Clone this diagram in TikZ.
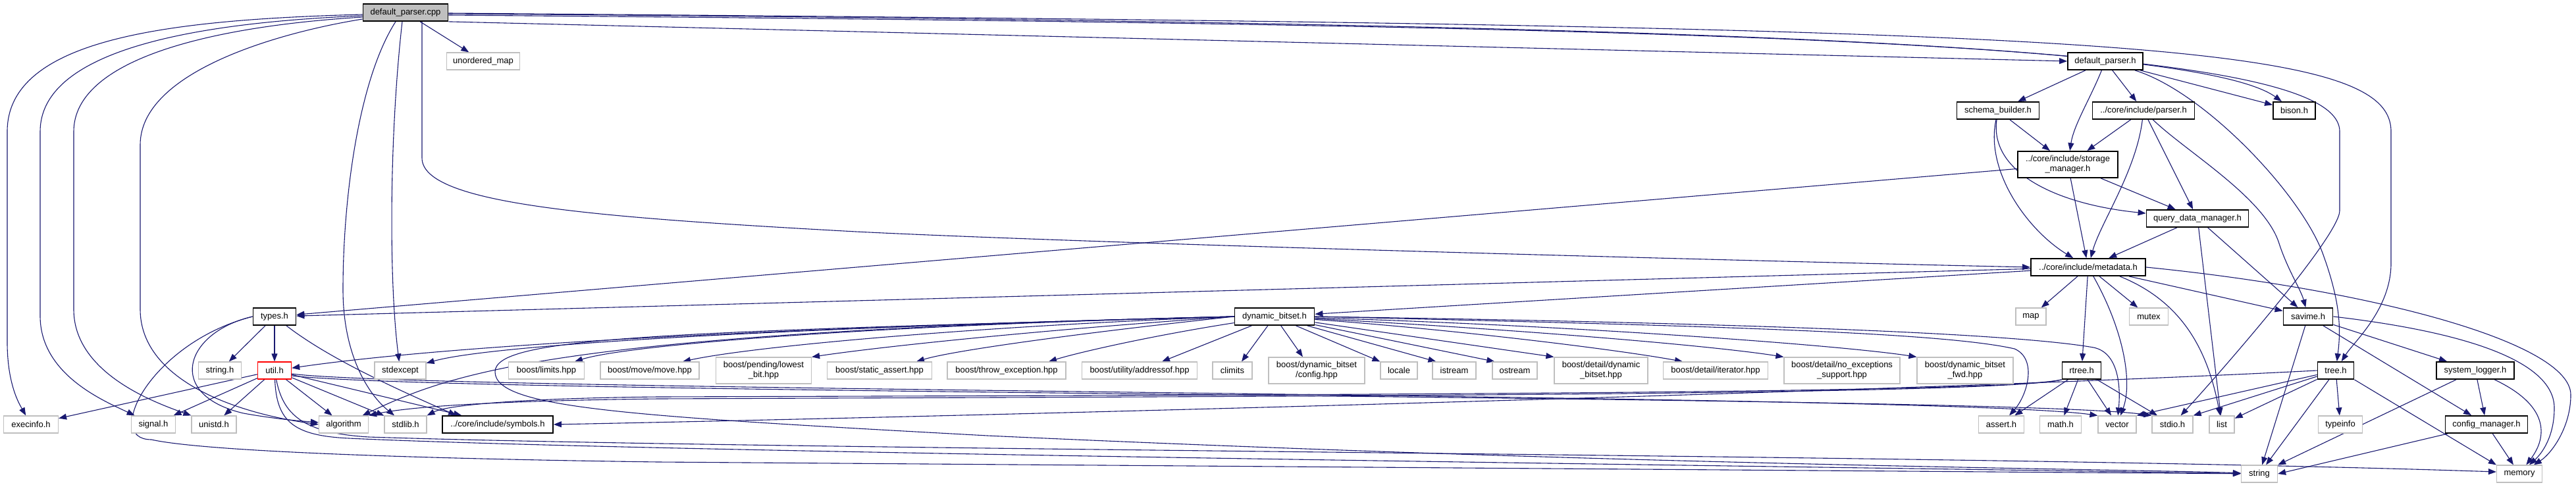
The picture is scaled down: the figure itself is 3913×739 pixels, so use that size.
\documentclass[tikz,border=0pt]{standalone}
\usepackage{fontspec}
\newfontfamily\nodefont{Liberation Sans}
\usetikzlibrary{arrows.meta,calc}
\pgfdeclarelayer{background}
\pgfsetlayers{background,main}
\definecolor{edgeblue}{HTML}{191970}
\definecolor{grey75}{HTML}{BFBFBF}
\tikzset{
  base/.style={rectangle, inner sep=0pt, minimum height=26pt, align=center, fill=white,
    font={\nodefont\fontsize{13}{15}\selectfont}},
  doc/.style={base, draw=black, line width=1.8pt},
  ext/.style={base, draw=grey75, line width=1.2pt},
  redbox/.style={base, draw=red, line width=1.4pt},
  two/.style={minimum height=40pt},
  edge/.style={draw=edgeblue, line width=1.1pt, -{Triangle[length=12pt,width=9pt]}},
}
\begin{document}
\begin{tikzpicture}[x=1pt,y=-1pt]
\useasboundingbox (0,0) rectangle (3913,739);
% ---------- nodes ----------
\node[doc, fill=grey75, minimum width=129pt] (dpc) at (616,19) {default\_parser.cpp};
\node[ext, minimum width=111pt] (umap) at (734,93) {unordered\_map};
\node[doc, minimum width=114pt] (dph) at (3198,93) {default\_parser.h};
\node[doc, minimum width=125pt] (sb) at (3035,168) {schema\_builder.h};
\node[doc, minimum width=155pt] (parser) at (3256,168) {../core/include/parser.h};
\node[doc, minimum width=64pt] (bison) at (3485,168) {bison.h};
\node[doc, two, minimum width=152pt] (sm) at (3141,250) {../core/include/storage\\\_manager.h};
\node[doc, minimum width=155pt] (qdm) at (3338,332) {query\_data\_manager.h};
\node[doc, minimum width=174pt] (meta) at (3172,406) {../core/include/metadata.h};
\node[doc, minimum width=65pt] (types) at (417,481) {types.h};
\node[doc, minimum width=121pt] (dbs) at (1936,481) {dynamic\_bitset.h};
\node[ext, minimum width=46pt] (map) at (3085,481) {map};
\node[ext, minimum width=59pt] (mutex) at (3264,481) {mutex};
\node[doc, minimum width=75pt] (savime) at (3506,481) {savime.h};
\node[ext, minimum width=65pt] (stringh) at (334,563) {string.h};
\node[redbox, minimum width=51pt] (util) at (417,563) {util.h};
\node[ext, minimum width=78pt] (stdexcept) at (608,563) {stdexcept};
\node[ext, minimum width=115pt] (blimits) at (830,563) {boost/limits.hpp};
\node[ext, minimum width=150pt] (bmove) at (987,563) {boost/move/move.hpp};
\node[ext, two, minimum width=145pt] (blowest) at (1160,563) {boost/pending/lowest\\\_bit.hpp};
\node[ext, minimum width=159pt] (bstatic) at (1336,563) {boost/static\_assert.hpp};
\node[ext, minimum width=180pt] (bthrow) at (1529,563) {boost/throw\_exception.hpp};
\node[ext, minimum width=175pt] (baddr) at (1731,563) {boost/utility/addressof.hpp};
\node[ext, minimum width=60pt] (climits) at (1872,563) {climits};
\node[ext, two, minimum width=146pt] (bconfig) at (2000,563) {boost/dynamic\_bitset\\/config.hpp};
\node[ext, minimum width=56pt] (locale) at (2125,563) {locale};
\node[ext, minimum width=66pt] (istream) at (2209,563) {istream};
\node[ext, minimum width=68pt] (ostream) at (2301,563) {ostream};
\node[ext, two, minimum width=142pt] (bddyn) at (2432,563) {boost/detail/dynamic\\\_bitset.hpp};
\node[ext, minimum width=159pt] (biter) at (2606,563) {boost/detail/iterator.hpp};
\node[ext, two, minimum width=176pt] (bnoexc) at (2798,563) {boost/detail/no\_exceptions\\\_support.hpp};
\node[ext, two, minimum width=146pt] (bfwd) at (2985,563) {boost/dynamic\_bitset\\\_fwd.hpp};
\node[doc, minimum width=59pt] (rtree) at (3162,563) {rtree.h};
\node[doc, minimum width=55pt] (tree) at (3548,563) {tree.h};
\node[doc, minimum width=118pt] (slog) at (3760,563) {system\_logger.h};
\node[ext, minimum width=83pt] (execinfo) at (47,645) {execinfo.h};
\node[ext, minimum width=67pt] (signal) at (233,645) {signal.h};
\node[ext, minimum width=68pt] (unistd) at (325,645) {unistd.h};
\node[ext, minimum width=75pt] (algorithm) at (522,645) {algorithm};
\node[ext, minimum width=64pt] (stdlib) at (616,645) {stdlib.h};
\node[doc, minimum width=168pt] (symbols) at (756,645) {../core/include/symbols.h};
\node[ext, minimum width=69pt] (assert) at (3040,645) {assert.h};
\node[ext, minimum width=63pt] (math) at (3130,645) {math.h};
\node[ext, minimum width=58pt] (vector) at (3216,645) {vector};
\node[ext, minimum width=62pt] (stdio) at (3300,645) {stdio.h};
\node[ext, minimum width=38pt] (list) at (3375,645) {list};
\node[ext, minimum width=67pt] (typeinfo) at (3555,645) {typeinfo};
\node[doc, minimum width=125pt] (config) at (3777,645) {config\_manager.h};
\node[ext, minimum width=55pt] (stringn) at (3432,720) {string};
\node[ext, minimum width=69pt] (memory) at (3827,720) {memory};
% ---------- edges ----------
\begin{pgfonlayer}{background}
% default_parser.cpp
\draw[edge] (dpc) -- (umap);
\draw[edge] (dpc.south east) -- (dph.west);
\draw[edge] ($(dpc.east)+(0,2)$) .. controls (2600,35) and (3350,70) .. (bison);
\draw[edge] ($(dpc.east)+(0,4)$) .. controls (2800,40) and (3554,70) .. (3554,200) -- (3554,320) .. controls (3554,360) and (3360,580) .. (stdio);
\draw[edge] ($(dpc.east)+(0,1)$) .. controls (3200,40) and (3632,60) .. (3632,200) -- (3632,400) .. controls (3632,470) and (3575,520) .. (tree);
\draw[edge] ($(dpc.south)+(25,0)$) -- (641,240) .. controls (641,310) and (900,330) .. (1300,352) .. controls (1700,372) and (2800,400) .. (meta.west);
\draw[edge] ($(dpc.west)+(0,3)$) .. controls (250,30) and (11,60) .. (11,200) -- (11,520) .. controls (11,585) and (30,615) .. (execinfo);
\draw[edge] ($(dpc.west)+(0,5)$) .. controls (280,35) and (61,80) .. (61,200) -- (61,480) .. controls (61,570) and (160,610) .. (signal);
\draw[edge] ($(dpc.west)+(0,7)$) .. controls (320,40) and (112,90) .. (112,200) -- (112,470) .. controls (112,565) and (230,610) .. (unistd.north west);
\draw[edge] ($(dpc.west)+(0,10)$) .. controls (420,50) and (213,110) .. (213,220) -- (213,470) .. controls (213,570) and (340,625) .. (algorithm.west);
\draw[edge] ($(dpc.south)+(-5,0)$) .. controls (592,200) and (590,420) .. (stdexcept);
\draw[edge] ($(dpc.south)+(-15,0)$) .. controls (545,120) and (521,300) .. (521,440) .. controls (521,540) and (560,600) .. (stdlib);
% default_parser.h
\draw[edge] (dph) -- (sb);
\draw[edge] (dph) .. controls (3175,150) and (3150,190) .. (sm);
\draw[edge] (dph) -- (parser);
\draw[edge] (dph) -- (bison);
\draw[edge] (dph) .. controls (3350,140) and (3500,300) .. (3530,390) .. controls (3555,460) and (3556,500) .. (tree);
% schema_builder.h
\draw[edge] (sb) -- (sm);
\draw[edge] (sb) .. controls (3022,260) and (3120,310) .. (qdm);
\draw[edge] (sb) .. controls (3015,260) and (3080,350) .. (meta);
% parser.h
\draw[edge] (parser) -- (sm);
\draw[edge] (parser) .. controls (3245,260) and (3190,340) .. (meta);
\draw[edge] (parser) -- (qdm);
\draw[edge] (parser) .. controls (3320,230) and (3440,300) .. (3462,370) .. controls (3475,410) and (3495,440) .. (savime);
% storage_manager.h
\draw[edge] (sm) -- (types);
\draw[edge] (sm) -- (meta);
\draw[edge] (sm) -- (qdm);
% query_data_manager.h
\draw[edge] (qdm) -- (meta);
\draw[edge] (qdm) -- (list);
\draw[edge] (qdm) -- (savime);
% metadata.h
\draw[edge] (meta) -- (map);
\draw[edge] (meta) -- (rtree);
\draw[edge] (meta) .. controls (3225,500) and (3240,580) .. (vector);
\draw[edge] (meta) -- (mutex);
\draw[edge] ($(meta.south east)+(-40,0)$) .. controls (3320,460) and (3355,540) .. (list);
\draw[edge] (meta) -- (savime);
\draw[edge] (meta.east) .. controls (3600,440) and (3905,520) .. (3905,600) .. controls (3905,650) and (3875,690) .. (memory);
\draw[edge] (meta) -- (types);
\draw[edge] (meta) -- (dbs);
% dynamic_bitset.h
\draw[edge] (dbs.west) .. controls (1200,498) and (700,522) .. (util);
\draw[edge] (dbs.west) .. controls (1300,495) and (760,520) .. (stdexcept);
\draw[edge] (dbs.west) .. controls (850,505) and (690,565) .. (algorithm);
\draw[edge] (dbs.west) .. controls (1000,505) and (752,512) .. (752,565) .. controls (752,620) and (950,632) .. (1500,662) .. controls (2500,708) and (3250,713) .. (stringn);
\draw[edge] (dbs.west) .. controls (1300,495) and (950,525) .. ($(blimits.north)+(43,0)$);
\draw[edge] (dbs.west) .. controls (1500,495) and (1150,525) .. ($(bmove.north)+(50,0)$);
\draw[edge] (dbs.west) .. controls (1600,500) and (1350,525) .. (blowest.north east);
\draw[edge] (dbs.west) .. controls (1650,505) and (1450,532) .. ($(bstatic.north)+(56,0)$);
\draw[edge] (dbs) .. controls (1750,510) and (1640,535) .. ($(bthrow.north)+(64,0)$);
\draw[edge] (dbs) -- ($(baddr.north)+(34,0)$);
\draw[edge] (dbs) -- ($(climits.north)+(14,0)$);
\draw[edge] (dbs) -- ($(bconfig.north)+(-21,0)$);
\draw[edge] (dbs) -- (locale.north west);
\draw[edge] (dbs) -- ($(istream.north west)+(6,0)$);
\draw[edge] (dbs) -- ($(ostream.north west)+(4,0)$);
\draw[edge] (dbs) -- (bddyn.north west);
\draw[edge] (dbs) .. controls (2200,500) and (2450,530) .. ($(biter.north)+(-50,0)$);
\draw[edge] (dbs) .. controls (2300,500) and (2600,525) .. (bnoexc.north west);
\draw[edge] (dbs) .. controls (2400,495) and (2800,525) .. (bfwd.north west);
\draw[edge] (dbs.east) .. controls (2600,495) and (2950,505) .. (3060,530) .. controls (3095,545) and (3080,600) .. (assert);
\draw[edge] (dbs.east) .. controls (2600,490) and (3050,505) .. (3180,528) .. controls (3215,535) and (3222,580) .. (vector);
% types.h
\draw[edge] (types) -- (stringh);
\draw[edge] (types) -- (util);
\draw[edge] (types) .. controls (500,545) and (600,590) .. ($(symbols.north west)+(22,0)$);
\draw[edge] (types.west) .. controls (280,505) and (250,600) .. (370,628) .. controls (420,637) and (460,640) .. (algorithm);
\draw[edge] (types.west) .. controls (230,520) and (155,668) .. (230,668) .. controls (320,688) and (700,698) .. (1000,702) -- (stringn);
% util.h
\draw[edge] (util) -- (execinfo);
\draw[edge] (util) -- (signal);
\draw[edge] (util) -- (unistd);
\draw[edge] (util) -- (algorithm);
\draw[edge] (util) -- (stdlib);
\draw[edge] (util) -- ($(symbols.north west)+(30,0)$);
\draw[edge] ($(util.east)+(0,5)$) .. controls (650,595) and (2950,598) .. (vector.north west);
\draw[edge] ($(util.east)+(0,8)$) .. controls (700,600) and (3050,600) .. (stdio.north west);
\draw[edge] (util) .. controls (420,640) and (445,662) .. (530,666) .. controls (1000,688) and (2700,708) .. (stringn);
\draw[edge] (util) .. controls (430,630) and (460,658) .. (560,664) .. controls (1200,685) and (3000,690) .. ($(memory.west)+(0,-3)$);
% rtree.h
\draw[edge] (rtree) -- (assert);
\draw[edge] (rtree) -- (math);
\draw[edge] (rtree) -- (vector);
\draw[edge] (rtree) -- (stdio);
\draw[edge] (rtree.south west) .. controls (3040,598) and (2000,600) .. (1000,603) .. controls (800,605) and (680,615) .. (stdlib.north east);
\draw[edge] (rtree.south west) .. controls (3040,600) and (2000,602) .. (1000,606) .. controls (750,609) and (620,618) .. (algorithm.north east);
% tree.h
\draw[edge] (tree.west) .. controls (2900,595) and (1500,632) .. (symbols.east);
\draw[edge] (tree) -- (vector.north east);
\draw[edge] (tree) -- (stdio.north east);
\draw[edge] (tree) -- (list);
\draw[edge] (tree) -- (stringn);
\draw[edge] (tree) -- (typeinfo);
\draw[edge] (tree.south east) -- (memory.north west);
% savime.h
\draw[edge] (savime) -- (stringn);
\draw[edge] (savime) -- (config);
\draw[edge] (savime) -- (slog);
\draw[edge] (savime.east) .. controls (3750,505) and (3880,550) .. (3880,620) .. controls (3880,665) and (3860,690) .. (memory);
% system_logger.h
\draw[edge] (slog) -- (stringn.north east);
\draw[edge] (slog) -- (config);
\draw[edge] (slog) .. controls (3880,620) and (3865,670) .. (memory);
% config_manager.h
\draw[edge] (config) -- (stringn.east);
\draw[edge] (config) -- (memory);
\end{pgfonlayer}
\end{tikzpicture}
\end{document}
